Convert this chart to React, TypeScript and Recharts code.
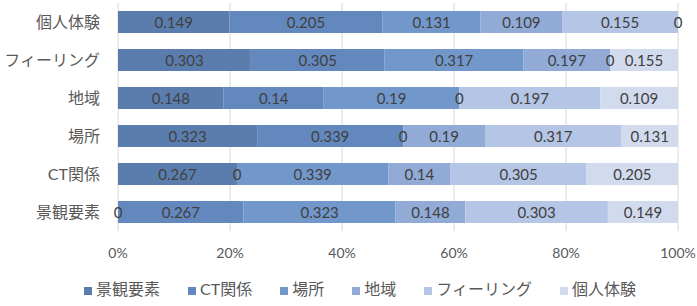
import React from 'react'
import { BarChart, Bar, XAxis, YAxis, CartesianGrid, Legend, LabelList } from 'recharts'

const categories = ['個人体験', 'フィーリング', '地域', '場所', 'CT関係', '景観要素']

const seriesNames = ['景観要素', 'CT関係', '場所', '地域', 'フィーリング', '個人体験']

// one array per series, in the same order as categories (top to bottom)
const keikan = [0.149, 0.303, 0.148, 0.323, 0.267, 0]
const ctKankei = [0.205, 0.305, 0.14, 0.339, 0, 0.267]
const basho = [0.131, 0.317, 0.19, 0, 0.339, 0.323]
const chiiki = [0.109, 0.197, 0, 0.19, 0.14, 0.148]
const feeling = [0.155, 0, 0.197, 0.317, 0.305, 0.303]
const kojin = [0, 0.155, 0.109, 0.131, 0.205, 0.149]

const xTicks = [0, 0.2, 0.4, 0.6, 0.8, 1]

const seriesValues = [keikan, ctKankei, basho, chiiki, feeling, kojin]
const colors = ['#5a7dae', '#6388bd', '#7297ca', '#91aad6', '#b5c5e5', '#d2daee']

const data = categories.map((name, i) => {
  const row: Record<string, string | number> = { name }
  seriesNames.forEach((s, j) => {
    row[s] = seriesValues[j][i]
  })
  return row
})

const font = "Lato, 'Noto Sans CJK JP', sans-serif"
const labelStyle = { fill: '#404040', fontSize: 15, fontFamily: font }

// recharts drops zero-width segments (and their labels), so the neighbouring
// non-zero segment draws their "0" at its edge
const makeLabel = (j: number) => {
  const shown = seriesValues[j].map((v, i) => (v !== 0 ? i : -1)).filter((i) => i >= 0)
  return (props: any) => {
    const { x, y, width, height } = props
    const index = shown[props.index]
    if (index === undefined) return null
    const v = seriesValues[j][index]
    const cy = Number(y) + Number(height) / 2
    const left = Number(x)
    const right = Number(x) + Number(width)
    const out: React.ReactNode[] = [
      <text key="v" x={left + Number(width) / 2} y={cy} textAnchor="middle" dominantBaseline="central" {...labelStyle}>
        {String(v)}
      </text>,
    ]
    let k = j - 1
    while (k >= 0 && seriesValues[k][index] === 0) {
      out.push(
        <text key={'b' + k} x={left} y={cy} textAnchor="middle" dominantBaseline="central" {...labelStyle}>0</text>
      )
      k--
    }
    const rest = seriesValues.slice(j + 1).map((arr) => arr[index])
    if (rest.length && rest.every((r) => r === 0)) {
      rest.forEach((_, m) =>
        out.push(
          <text key={'a' + m} x={right} y={cy} textAnchor="middle" dominantBaseline="central" {...labelStyle}>0</text>
        )
      )
    }
    return <g>{out}</g>
  }
}

export default function App() {
  return (
    <div style={{ position: 'absolute', left: 0, top: 0, fontFamily: font }}>
      <BarChart
        width={697}
        height={306}
        data={data}
        layout="vertical"
        stackOffset="expand"
        margin={{ top: 3, right: 19, left: 0, bottom: 0 }}
      >
        <CartesianGrid horizontal={false} stroke="#d9d9d9" />
        <XAxis
          type="number"
          domain={[0, 1]}
          ticks={xTicks}
          tickFormatter={(v: number) => Math.round(v * 100) + '%'}
          axisLine={false}
          tickLine={false}
          tickSize={0}
          tickMargin={17}
          height={45}
          tick={{ fontSize: 14, fill: '#595959', fontFamily: font }}
        />
        <YAxis
          type="category"
          dataKey="name"
          width={118}
          axisLine={false}
          tickLine={false}
          tickSize={0}
          tickMargin={18}
          tick={{ fontSize: 16, fill: '#595959', fontFamily: font }}
        />
        <Legend
          verticalAlign="bottom"
          height={30}
          iconType="square"
          iconSize={8}
          wrapperStyle={{ paddingLeft: 70, boxSizing: 'border-box' }}
          itemSorter={(item: any) => seriesNames.indexOf(item.value)}
          formatter={(v: string) => <span style={{ color: '#595959', fontSize: 16, marginRight: 18 }}>{v}</span>}
        />
        {seriesNames.map((s, j) => (
          <Bar key={s} dataKey={s} stackId="a" fill={colors[j]} barSize={22} isAnimationActive={false}>
            <LabelList dataKey={s} position="center" content={makeLabel(j)} />
          </Bar>
        ))}
      </BarChart>
    </div>
  )
}
